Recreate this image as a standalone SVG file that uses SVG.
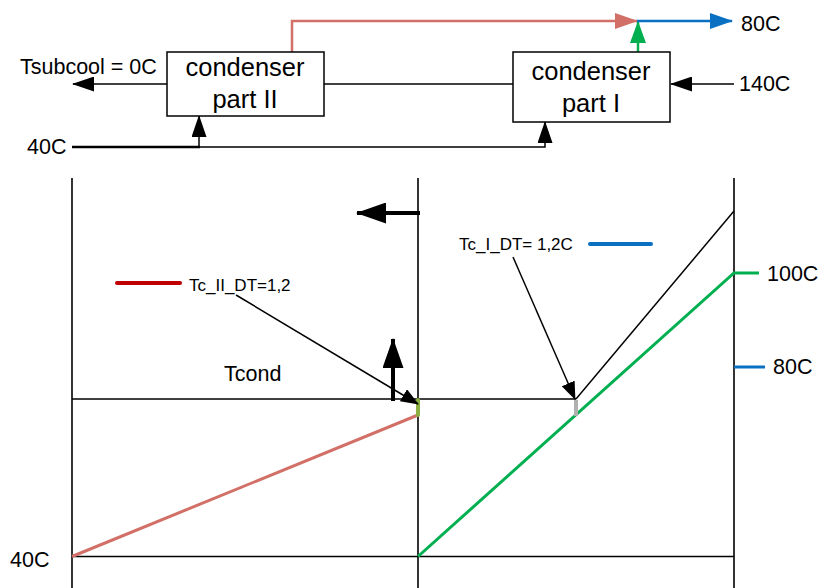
<svg xmlns="http://www.w3.org/2000/svg" width="821" height="588" viewBox="0 0 821 588">
  <style>
    .lbl { font-family: "Liberation Sans", Arial, sans-serif; font-size: 21.5px; fill: #000; }
    .box-t { font-family: "Liberation Sans", Arial, sans-serif; font-size: 25.5px; fill: #000; text-anchor: middle; }
    .small { font-family: "Liberation Sans", Arial, sans-serif; font-size: 17px; fill: #000; }
    .box { fill: #fff; stroke: #000; stroke-width: 1.5; }
    .ln { fill: none; stroke: #000; stroke-width: 1.5; }
    .thick { fill: none; stroke: #000; stroke-width: 2.5; }
    .axis { fill: none; stroke: #000; stroke-width: 1.6; }
  </style>
  <defs>
    <marker id="ah" markerUnits="userSpaceOnUse" markerWidth="22" markerHeight="15" refX="21" refY="7.5" orient="auto">
      <path d="M0,0 L22,7.5 L0,15 z" fill="#000"/>
    </marker>
    <marker id="ah-red" markerUnits="userSpaceOnUse" markerWidth="23" markerHeight="16" refX="22" refY="8" orient="auto">
      <path d="M0,0 L23,8 L0,16 z" fill="#d27068"/>
    </marker>
    <marker id="ah-blue" markerUnits="userSpaceOnUse" markerWidth="23" markerHeight="16" refX="22" refY="8" orient="auto">
      <path d="M0,0 L23,8 L0,16 z" fill="#0a70c2"/>
    </marker>
    <marker id="ah-green" markerUnits="userSpaceOnUse" markerWidth="22" markerHeight="16" refX="21" refY="8" orient="auto">
      <path d="M0,0 L22,8 L0,16 z" fill="#00b050"/>
    </marker>
    <marker id="ah-big" markerUnits="userSpaceOnUse" markerWidth="30" markerHeight="21" refX="29" refY="10.5" orient="auto">
      <path d="M0,0 L30,10.5 L0,21 z" fill="#000"/>
    </marker>
    <marker id="ah-lead" markerUnits="userSpaceOnUse" markerWidth="18" markerHeight="14" refX="17" refY="7" orient="auto">
      <path d="M0,0 L18,7 L0,14 z" fill="#000"/>
    </marker>
  </defs>

  <!-- process flow connectors -->
  <g id="connectors">
    <!-- outlet of part II (subcooled) -->
    <line class="ln" x1="167" y1="84" x2="73" y2="84" marker-end="url(#ah)"/>
    <!-- link between the two condenser parts -->
    <line class="ln" x1="324" y1="84" x2="513" y2="84"/>
    <!-- hot inlet -->
    <line class="ln" x1="734" y1="84" x2="671" y2="84" marker-end="url(#ah)"/>
    <!-- cooling water 40C -->
    <line class="thick" x1="72" y1="147" x2="200" y2="147"/>
    <path class="ln" d="M199,147 L545,147 L545,122" marker-end="url(#ah)"/>
    <line class="ln" x1="199" y1="147" x2="199" y2="116" marker-end="url(#ah)"/>
    <!-- water from part II -->
    <path d="M292,52 L292,21 L637,21" fill="none" stroke="#d27068" stroke-width="2.5" marker-end="url(#ah-red)"/>
    <!-- water from part I -->
    <line x1="638" y1="52" x2="638" y2="22" stroke="#00b050" stroke-width="2.5" marker-end="url(#ah-green)"/>
    <!-- mixed outlet 80C -->
    <line x1="637" y1="21" x2="732" y2="21" stroke="#0a70c2" stroke-width="2.5" marker-end="url(#ah-blue)"/>
  </g>

  <g id="condenser-part-II">
    <rect class="box" x="167" y="52" width="157" height="64"/>
    <text class="box-t" x="245" y="76">condenser</text>
    <text class="box-t" x="245" y="108">part II</text>
  </g>

  <g id="condenser-part-I">
    <rect class="box" x="513" y="52" width="157" height="70"/>
    <text class="box-t" x="591" y="80">condenser</text>
    <text class="box-t" x="591" y="112">part I</text>
  </g>

  <g id="flow-labels">
    <text class="lbl" x="20" y="74">Tsubcool = 0C</text>
    <text class="lbl" x="739" y="91">140C</text>
    <text class="lbl" x="741" y="31">80C</text>
    <text class="lbl" x="27" y="154">40C</text>
  </g>

  <!-- temperature profile chart -->
  <g id="chart">
    <line class="axis" x1="72" y1="178" x2="72" y2="588"/>
    <line class="axis" x1="418" y1="178" x2="418" y2="588"/>
    <line class="axis" x1="734" y1="178" x2="734" y2="588"/>
    <line class="axis" x1="72" y1="556.5" x2="734" y2="556.5"/>
    <line class="axis" x1="72" y1="399" x2="576" y2="399"/>

    <!-- refrigerant superheat line -->
    <line x1="576" y1="399" x2="734" y2="211" stroke="#000" stroke-width="1.5"/>

    <!-- water in part II -->
    <line x1="72" y1="556.5" x2="418" y2="415" stroke="#d27068" stroke-width="3"/>
    <!-- water in part I -->
    <polyline points="418,556.5 734,273 759,273" fill="none" stroke="#00b050" stroke-width="3"/>
    <!-- mixed outlet -->
    <line x1="734" y1="367" x2="765" y2="367" stroke="#0a70c2" stroke-width="3"/>

    <!-- pinch markers -->
    <line x1="418" y1="400" x2="418" y2="415" stroke="#8cb040" stroke-width="4" stroke-linecap="round"/>
    <line x1="576" y1="400" x2="576" y2="416" stroke="#b0b0b0" stroke-width="4"/>

    <!-- legend swatches -->
    <line x1="117" y1="283" x2="180" y2="283" stroke="#c00000" stroke-width="4" stroke-linecap="round"/>
    <line x1="590" y1="244" x2="651" y2="244" stroke="#0a70c2" stroke-width="4" stroke-linecap="round"/>

    <!-- leaders -->
    <line x1="236" y1="295" x2="418" y2="404" stroke="#000" stroke-width="1.5" marker-end="url(#ah-lead)"/>
    <line x1="513" y1="257" x2="575" y2="399" stroke="#000" stroke-width="1.5" marker-end="url(#ah-lead)"/>

    <!-- heat flow arrows -->
    <line x1="393" y1="401" x2="393" y2="339" stroke="#000" stroke-width="4" marker-end="url(#ah-big)"/>
    <line x1="420" y1="213" x2="357" y2="213" stroke="#000" stroke-width="4" marker-end="url(#ah-big)"/>

    <text class="small" x="189" y="291">Tc_II_DT=1,2</text>
    <text class="small" x="459" y="250">Tc_I_DT= 1,2C</text>
    <text class="lbl" x="224" y="381">Tcond</text>
    <text class="lbl" x="767" y="281">100C</text>
    <text class="lbl" x="773" y="374">80C</text>
    <text class="lbl" x="10" y="567">40C</text>
  </g>
</svg>
